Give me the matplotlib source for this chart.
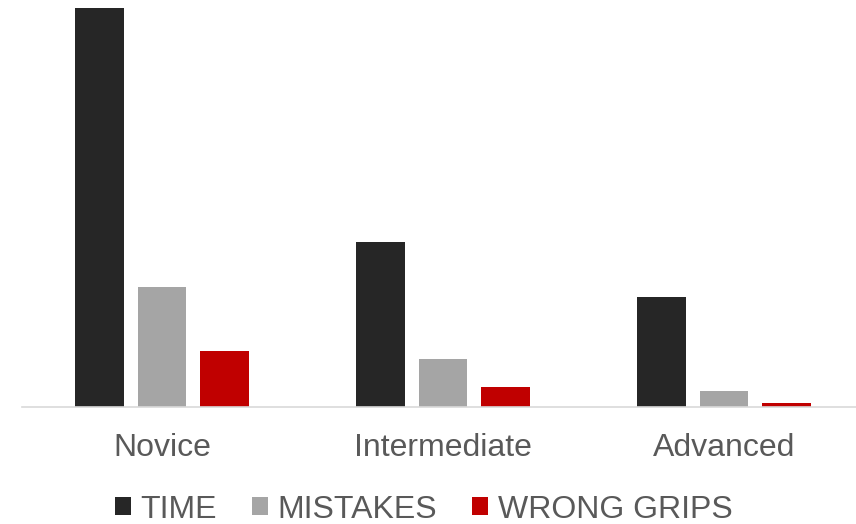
import numpy as np
import matplotlib.pyplot as plt

# Data (relative bar heights)
levels = ['Novice', 'Intermediate', 'Advanced']
series = ['TIME', 'MISTAKES', 'WRONG GRIPS']
time_vals = [399, 165, 110]
mistake_vals = [120, 48, 16]
grip_vals = [56, 20, 4]
colors = ['#262626', '#A5A5A5', '#C00000']

plt.rcParams['font.family'] = ['Liberation Sans', 'DejaVu Sans']

fig = plt.figure(figsize=(8.56, 5.24), dpi=100)
ax = fig.add_axes([21.5/856, 117/524, 843/856, 407/524])

x = np.arange(len(levels))
w = 0.172
step = 0.222
for i, (vals, lab) in enumerate(zip([time_vals, mistake_vals, grip_vals], series)):
    ax.bar(x + (i - 1) * step, vals, width=w, color=colors[i], label=lab)

ax.set_xlim(-0.5, 2.5)
ax.set_ylim(0, 407)
ax.set_xticks(x)
ax.set_xticklabels(levels, fontsize=23, color='#595959')
ax.tick_params(axis='x', length=0, pad=19)
ax.set_yticks([])
for s in ['top', 'right', 'left']:
    ax.spines[s].set_visible(False)
ax.spines['bottom'].set_color('#D9D9D9')
ax.spines['bottom'].set_linewidth(1.2)

leg = fig.legend(loc='lower center', bbox_to_anchor=(0.495, -0.056), ncol=3, frameon=False,
                 fontsize=23, handlelength=0.5, handleheight=0.5, handletextpad=0.3,
                 columnspacing=1.1)
for t in leg.get_texts():
    t.set_color('#595959')

plt.savefig('out.png', dpi=100)
